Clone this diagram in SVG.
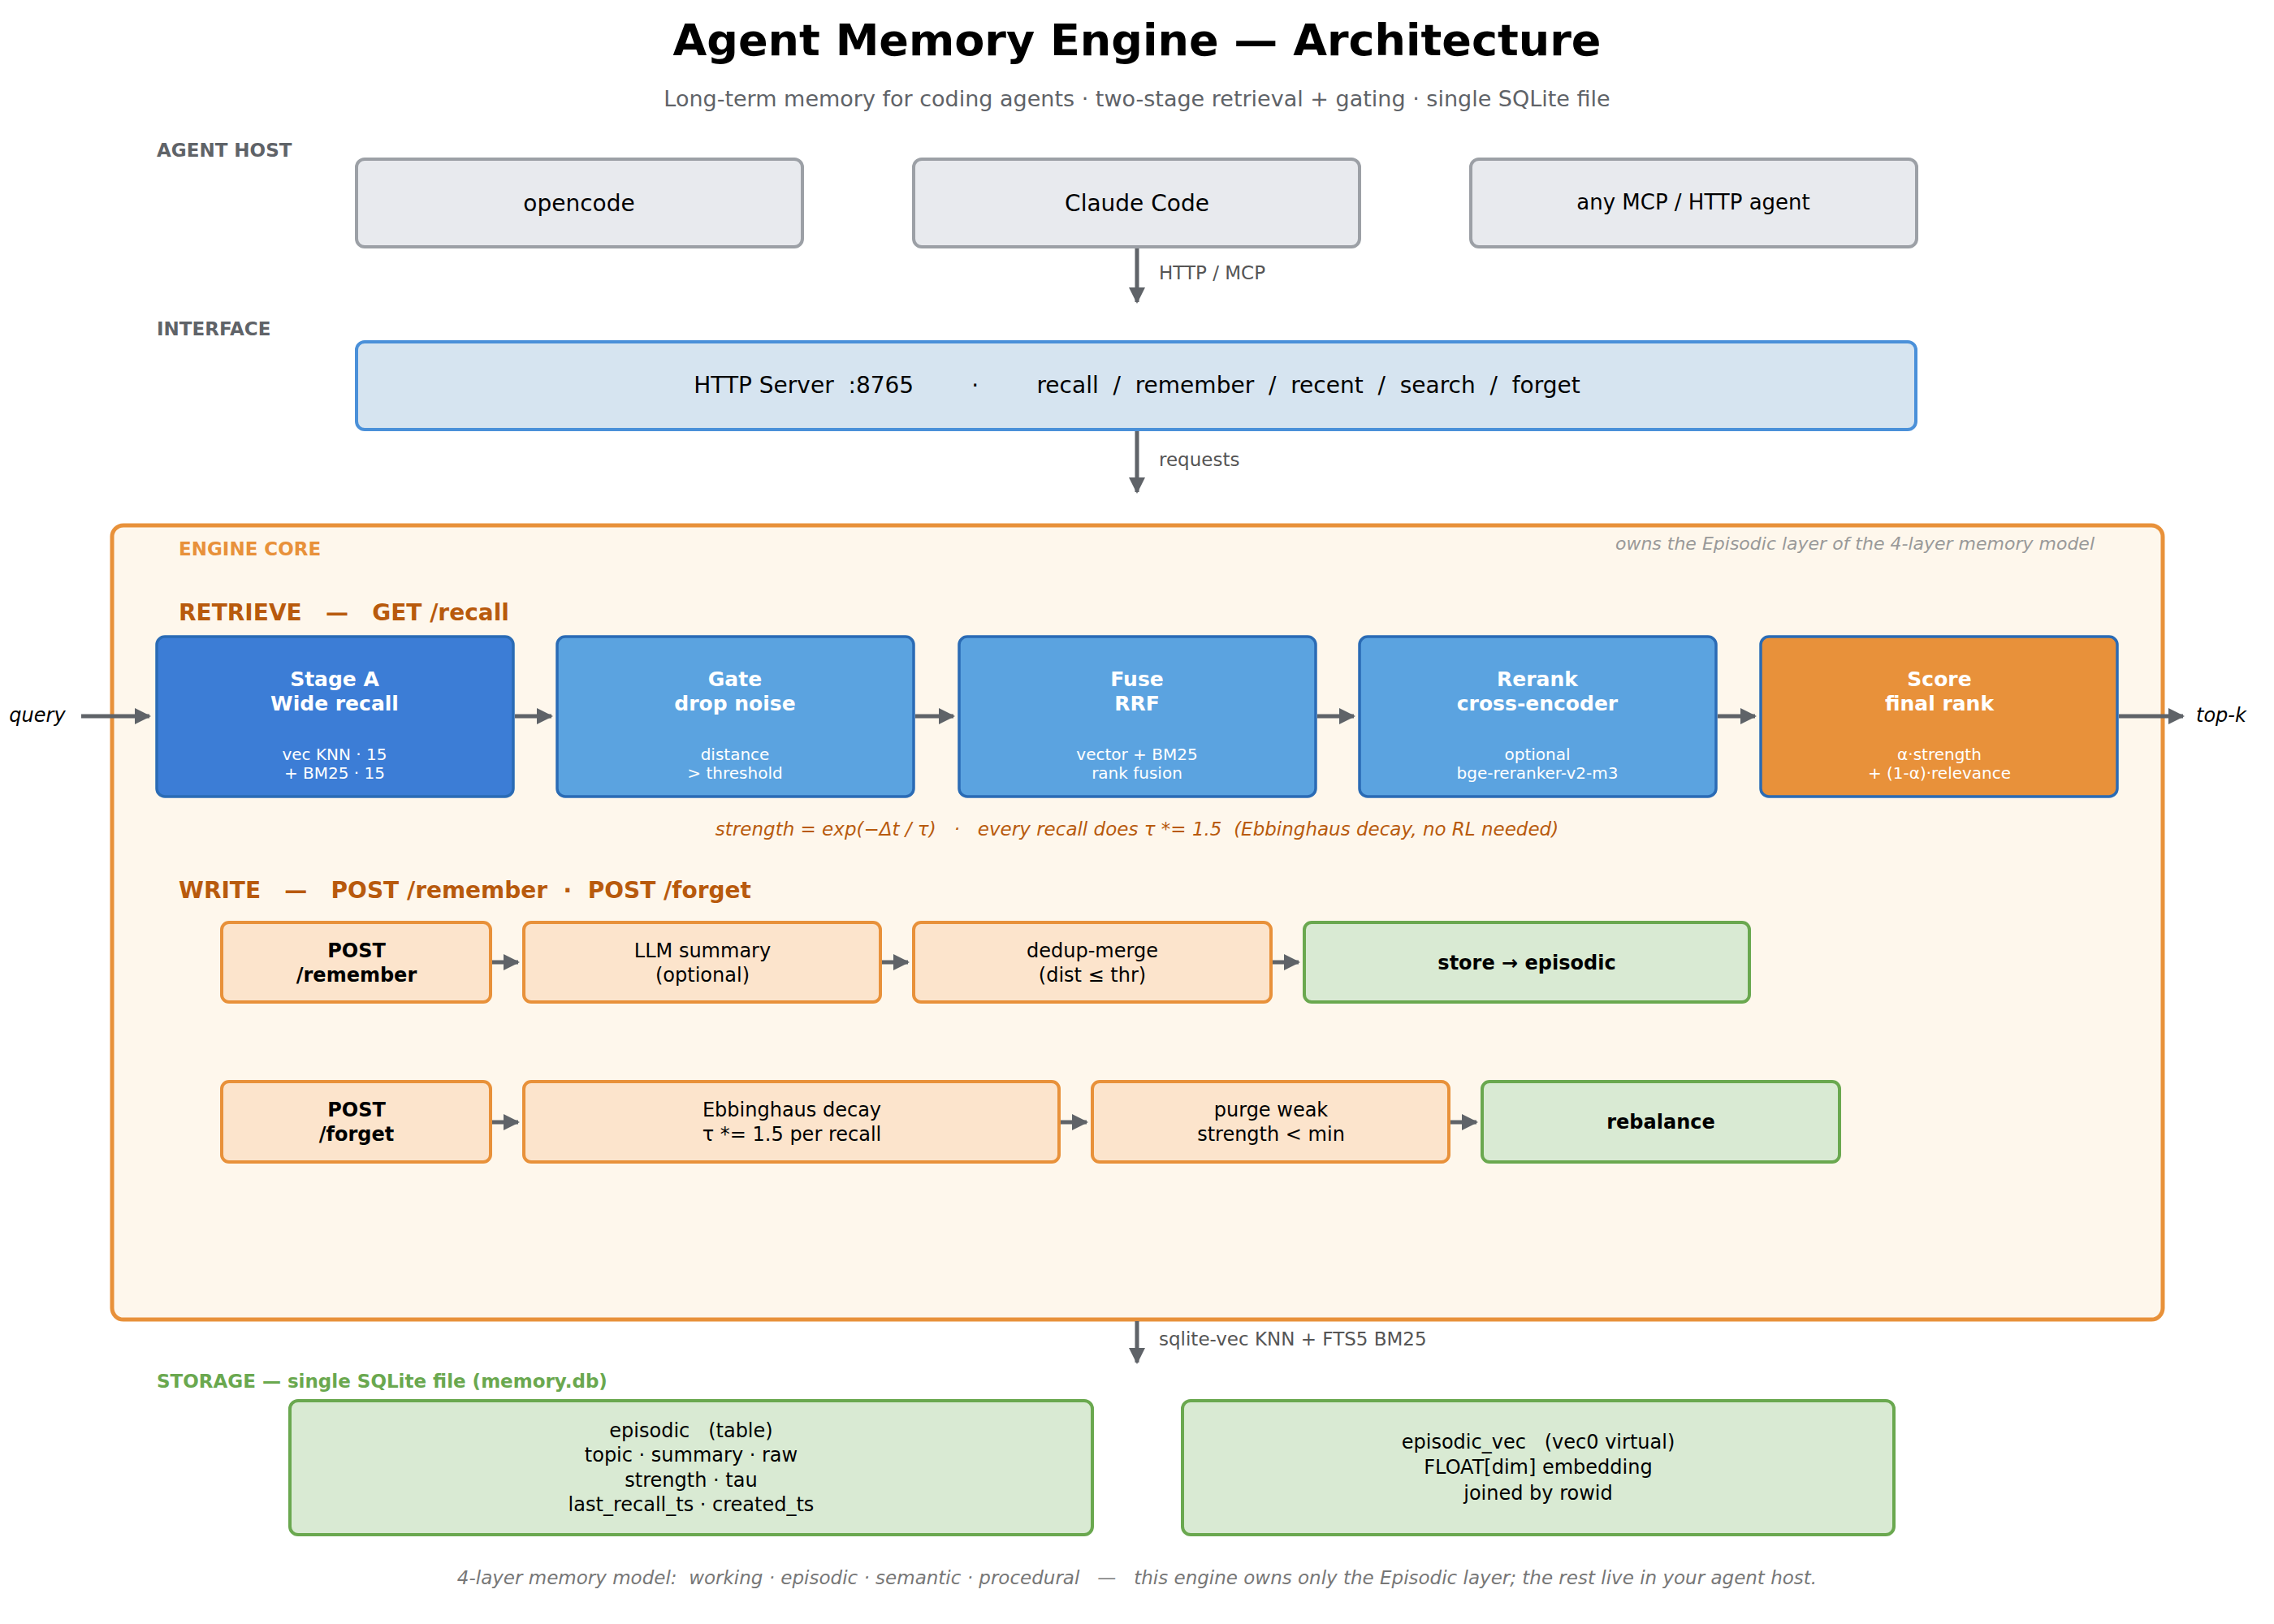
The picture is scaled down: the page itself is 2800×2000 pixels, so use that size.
<svg xmlns="http://www.w3.org/2000/svg" width="2800" height="2000" viewBox="0 0 2800 2000">
<style>
text{font-family:"DejaVu Sans","Liberation Sans",sans-serif}
.c{text-anchor:middle}
.sec{font-size:23px;font-weight:bold;fill:#5f6368}
.host{fill:#e8eaee;stroke:#9ca0a6;stroke-width:4}
.ht{font-size:28px;fill:#000}
.rb{fill:#5ba3e0;stroke:#2a6bb5;stroke-width:3.5}
.rt{font-size:25px;font-weight:bold;fill:#fff}
.rs{font-size:20px;fill:#fff}
.wb{fill:#fce4cc;stroke:#e8913a;stroke-width:4}
.gb{fill:#d9ead3;stroke:#6aa84f;stroke-width:4}
.wt{font-size:24px;fill:#000}
.wtb{font-size:24px;fill:#000;font-weight:bold}
.ln{stroke:#5f6368;stroke-width:5;fill:none;marker-end:url(#ah)}
.lab{font-size:23px;fill:#555}
.or{fill:#b85a0d;font-weight:bold;font-size:28px}
</style>
<defs>
<marker id="ah" viewBox="0 0 10 10" refX="9" refY="5" markerWidth="4" markerHeight="4" orient="auto" markerUnits="strokeWidth"><path d="M0,0L10,5L0,10z" fill="#5f6368"/></marker>
</defs>
<rect width="2800" height="2000" fill="#fff"/>
<text x="1400" y="68" class="c" font-size="54" font-weight="bold">Agent Memory Engine — Architecture</text>
<text x="1400" y="131" class="c" font-size="27" fill="#5f6368">Long-term memory for coding agents  ·  two-stage retrieval + gating  ·  single SQLite file</text>
<text x="193" y="193" class="sec">AGENT HOST</text>
<text x="193" y="413" class="sec">INTERFACE</text>
<g id="opencode"><rect x="439" y="196" width="549" height="108" rx="10" class="host"/><text x="713" y="260" class="c ht">opencode</text></g>
<g id="claude"><rect x="1125" y="196" width="549" height="108" rx="10" class="host"/><text x="1400" y="260" class="c ht">Claude Code</text></g>
<g id="anyagent"><rect x="1811" y="196" width="549" height="108" rx="10" class="host"/><text x="2085" y="258" class="c" font-size="26">any MCP / HTTP agent</text></g>
<g id="http"><rect x="439" y="421" width="1920" height="108" rx="10" fill="#d6e4f0" stroke="#4a90d9" stroke-width="4"/><text x="1400" y="484" class="c ht" xml:space="preserve">HTTP Server  :8765        ·        recall  /  remember  /  recent  /  search  /  forget</text></g>
<g id="core"><rect x="138" y="647" width="2525" height="978" rx="14" fill="#fef7ec" stroke="#e8913a" stroke-width="5"/>
<text x="220" y="684" font-size="23" font-weight="bold" fill="#e8913a">ENGINE CORE</text>
<text x="2579" y="677" text-anchor="end" font-size="22" font-style="italic" fill="#999">owns the Episodic layer of the 4-layer memory model</text>
<text x="220" y="764" class="or" xml:space="preserve">RETRIEVE   —   GET /recall</text>
<text x="1400" y="1029" class="c" font-size="23" font-style="italic" fill="#b85a0d" xml:space="preserve">strength = exp(−Δt / τ)   ·   every recall does τ *= 1.5  (Ebbinghaus decay, no RL needed)</text>
<text x="220" y="1106" class="or" xml:space="preserve">WRITE   —   POST /remember  ·  POST /forget</text>
</g>
<g id="stageA"><rect x="193" y="784" width="439" height="197" rx="10" class="rb" fill="#3c7dd6" style="fill:#3c7dd6"/><text x="412" y="845" class="c rt">Stage A</text><text x="412" y="875" class="c rt">Wide recall</text><text x="412" y="936" class="c rs">vec KNN · 15</text><text x="412" y="959" class="c rs">+ BM25 · 15</text></g>
<g id="gate"><rect x="686" y="784" width="439" height="197" rx="10" class="rb"/><text x="905" y="845" class="c rt">Gate</text><text x="905" y="875" class="c rt">drop noise</text><text x="905" y="936" class="c rs">distance</text><text x="905" y="959" class="c rs">&gt; threshold</text></g>
<g id="fuse"><rect x="1181" y="784" width="439" height="197" rx="10" class="rb"/><text x="1400" y="845" class="c rt">Fuse</text><text x="1400" y="875" class="c rt">RRF</text><text x="1400" y="936" class="c rs">vector + BM25</text><text x="1400" y="959" class="c rs">rank fusion</text></g>
<g id="rerank"><rect x="1674" y="784" width="439" height="197" rx="10" class="rb"/><text x="1893" y="845" class="c rt">Rerank</text><text x="1893" y="875" class="c rt">cross-encoder</text><text x="1893" y="936" class="c rs">optional</text><text x="1893" y="959" class="c rs">bge-reranker-v2-m3</text></g>
<g id="score"><rect x="2168" y="784" width="439" height="197" rx="10" class="rb" style="fill:#e8913a"/><text x="2388" y="845" class="c rt">Score</text><text x="2388" y="875" class="c rt">final rank</text><text x="2388" y="936" class="c rs">α·strength</text><text x="2388" y="959" class="c rs">+ (1-α)·relevance</text></g>
<text x="46" y="889" class="c" font-size="24" font-style="italic">query</text>
<text x="2704" y="889" font-size="24" font-style="italic">top-k</text>
<g id="remember"><rect x="273" y="1136" width="331" height="98" rx="9" class="wb"/><text x="439" y="1179" class="c wtb">POST</text><text x="439" y="1209" class="c wtb">/remember</text></g>
<g id="llm"><rect x="645" y="1136" width="439" height="98" rx="9" class="wb"/><text x="865" y="1179" class="c wt">LLM summary</text><text x="865" y="1209" class="c wt">(optional)</text></g>
<g id="dedup"><rect x="1125" y="1136" width="440" height="98" rx="9" class="wb"/><text x="1345" y="1179" class="c wt">dedup-merge</text><text x="1345" y="1209" class="c wt">(dist ≤ thr)</text></g>
<g id="store"><rect x="1606" y="1136" width="548" height="98" rx="9" class="gb"/><text x="1880" y="1194" class="c wtb">store → episodic</text></g>
<g id="forget"><rect x="273" y="1332" width="331" height="99" rx="9" class="wb"/><text x="439" y="1375" class="c wtb">POST</text><text x="439" y="1405" class="c wtb">/forget</text></g>
<g id="decay"><rect x="645" y="1332" width="659" height="99" rx="9" class="wb"/><text x="975" y="1375" class="c wt">Ebbinghaus decay</text><text x="975" y="1405" class="c wt">τ *= 1.5 per recall</text></g>
<g id="purge"><rect x="1345" y="1332" width="439" height="99" rx="9" class="wb"/><text x="1565" y="1375" class="c wt">purge weak</text><text x="1565" y="1405" class="c wt">strength &lt; min</text></g>
<g id="rebalance"><rect x="1825" y="1332" width="440" height="99" rx="9" class="gb"/><text x="2045" y="1390" class="c wtb">rebalance</text></g>
<text x="193" y="1709" font-size="23" font-weight="bold" fill="#6aa84f">STORAGE  —  single SQLite file (memory.db)</text>
<g id="episodic"><rect x="357" y="1725" width="988" height="165" rx="10" class="gb"/><text x="851" y="1770" class="c wt" xml:space="preserve">episodic   (table)</text><text x="851" y="1800" class="c wt">topic · summary · raw</text><text x="851" y="1831" class="c wt">strength · tau</text><text x="851" y="1861" class="c wt">last_recall_ts · created_ts</text></g>
<g id="episodic_vec"><rect x="1456" y="1725" width="876" height="165" rx="10" class="gb"/><text x="1894" y="1784" class="c wt" xml:space="preserve">episodic_vec   (vec0 virtual)</text><text x="1894" y="1815" class="c wt">FLOAT[dim] embedding</text><text x="1894" y="1847" class="c wt">joined by rowid</text></g>
<text x="1400" y="1951" class="c" font-size="23" font-style="italic" fill="#777" xml:space="preserve">4-layer memory model:  working · episodic · semantic · procedural   —   this engine owns only the Episodic layer; the rest live in your agent host.</text>
<g id="connectors">
<path d="M1400 306V372" class="ln"/><text x="1427" y="344" class="lab">HTTP / MCP</text>
<path d="M1400 531V606" class="ln"/><text x="1427" y="574" class="lab">requests</text>
<path d="M100 882H184" class="ln"/>
<path d="M634 882H679" class="ln"/>
<path d="M1127 882H1174" class="ln"/>
<path d="M1622 882H1667" class="ln"/>
<path d="M2115 882H2161" class="ln"/>
<path d="M2609 882H2688" class="ln"/>
<path d="M606 1185H638" class="ln"/>
<path d="M1086 1185H1118" class="ln"/>
<path d="M1567 1185H1599" class="ln"/>
<path d="M606 1382H638" class="ln"/>
<path d="M1306 1382H1338" class="ln"/>
<path d="M1786 1382H1818" class="ln"/>
<path d="M1400 1627V1678" class="ln"/><text x="1427" y="1657" class="lab">sqlite-vec KNN  +  FTS5 BM25</text>
</g>
</svg>
